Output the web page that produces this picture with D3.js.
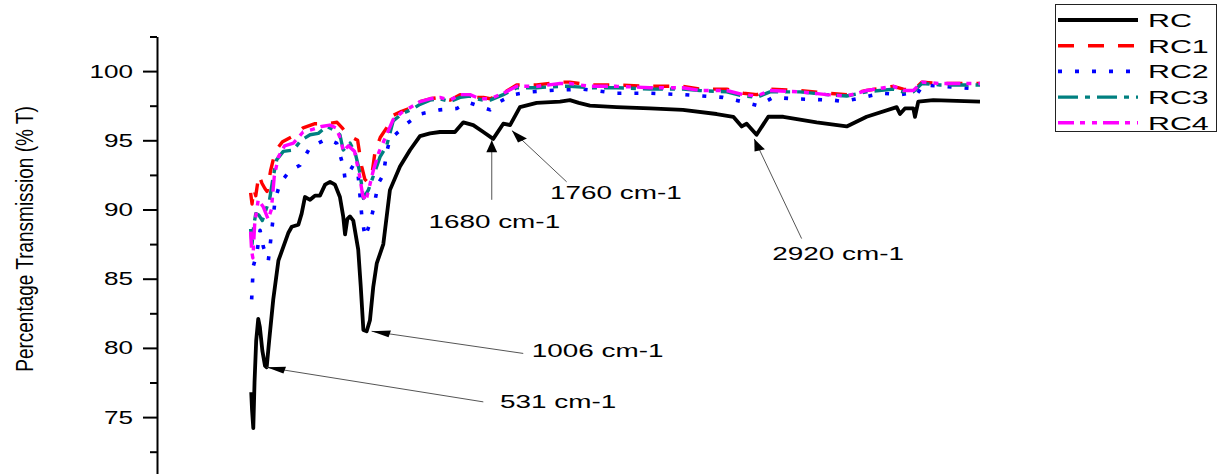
<!DOCTYPE html>
<html>
<head>
<meta charset="utf-8">
<script src="https://cdn.jsdelivr.net/npm/d3@7"></script>
<style>
  body { margin: 0; background: #fff; }
  svg { display: block; font-family: "Liberation Sans", Arial, sans-serif; }
</style>
</head>
<body>
<svg id="chart" width="1220" height="474"></svg>
<script>
// series: [wavenumber cm-1, % transmission]
var rc = [[458,76.8],[462,75.5],[468,74.2],[474,77.5],[482,80.5],[492,82.1],[500,81.5],[512,79.8],[525,78.7],[533,78.6],
  [545,80.5],[565,83.5],[590,86.3],[614,87.3],[638,88.3],[655,88.75],[687,88.9],[703,89.7],[719,90.9],[744,90.7],
  [760,90.9],[768,91.0],[792,91.0],[817,91.8],[841,92.0],[865,91.8],[889,90.9],[905,89.5],[914,88.2],[925,89.3],
  [938,89.5],[954,89.2],[978,87.1],[990,84.5],[1003,81.3],[1019,81.2],[1035,82.0],[1051,84.4],[1068,86.1],[1100,87.5],
  [1132,91.4],[1181,93.1],[1230,94.3],[1278,95.3],[1327,95.5],[1375,95.6],[1448,95.6],[1489,96.3],[1537,96.1],[1586,95.6],
  [1634,95.1],[1683,96.2],[1716,96.1],[1764,97.4],[1845,97.7],[1959,97.8],[2007,97.9],[2050,97.7],[2104,97.5],[2234,97.4],
  [2396,97.3],[2556,97.2],[2720,96.9],[2801,96.7],[2842,96.0],[2866,96.2],[2914,95.4],[2971,96.7],[3044,96.7],[3206,96.3],
  [3352,96.0],[3449,96.7],[3595,97.4],[3611,96.9],[3635,97.3],[3676,97.3],[3684,96.7],[3700,97.8],[3773,97.9],[4000,97.8]];

var rc1 = [[455,91.2],[462,90.4],[470,91.5],[480,91.0],[495,92.5],[510,91.9],[525,91.5],[535,91.3],[552,92.8],[575,94.2],
  [610,94.9],[660,95.3],[710,95.9],[768,96.2],[825,96.2],[875,96.3],[900,95.9],[925,95.4],[950,95.2],[975,95.0],
  [995,93.1],[1010,92.2],[1022,92.0],[1045,92.6],[1060,94.2],[1085,95.2],[1116,95.9],[1148,96.8],[1189,97.1],[1246,97.4],
  [1278,97.8],[1327,98.0],[1375,98.1],[1424,97.9],[1473,98.3],[1521,98.3],[1554,98.1],[1586,98.1],[1619,98.0],[1683,98.4],
  [1748,99.0],[1845,99.0],[1959,99.2],[2007,99.2],[2104,99.0],[2234,99.0],[2396,98.9],[2556,98.9],[2639,98.7],[2769,98.7],
  [2850,98.4],[2915,98.3],[2979,98.7],[3125,98.6],[3255,98.4],[3352,98.3],[3449,98.6],[3579,98.9],[3627,98.7],[3676,98.6],
  [3717,99.2],[3806,99.1],[4000,99.1]];

var rc2 = [[460,83.5],[468,85.9],[485,86.8],[501,88.5],[517,87.3],[541,86.3],[549,87.3],[574,90.7],[598,91.9],[646,92.8],
  [695,93.2],[744,94.5],[825,95.1],[873,94.8],[906,93.1],[914,92.2],[954,93.2],[978,92.4],[995,89.6],[1011,88.0],
  [1035,89.0],[1051,90.0],[1076,91.9],[1100,92.5],[1116,94.1],[1132,95.1],[1197,95.9],[1214,96.2],[1278,96.9],[1375,97.2],
  [1457,97.3],[1506,97.7],[1521,97.7],[1619,97.2],[1667,97.8],[1732,98.3],[1813,98.5],[1910,98.6],[2070,98.7],[2234,98.4],
  [2396,98.4],[2556,98.3],[2751,98.1],[2842,97.8],[2923,97.5],[2995,98.1],[3093,98.0],[3287,97.9],[3336,97.8],[3433,98.1],
  [3522,98.4],[3611,98.3],[3660,98.4],[3692,98.3],[3724,99.0],[3822,98.9],[4000,98.7]];

var rc3 = [[455,88.6],[462,87.5],[470,88.8],[480,89.7],[495,89.6],[512,89.2],[530,90.0],[547,90.7],[565,92.4],[582,93.6],
  [614,94.2],[663,94.3],[700,95.0],[744,95.4],[784,95.5],[825,96.0],[865,95.7],[889,95.4],[905,94.3],[938,94.8],
  [963,94.1],[987,92.6],[1003,90.8],[1027,91.4],[1051,92.4],[1084,93.8],[1116,94.6],[1148,96.4],[1189,96.9],[1246,97.3],
  [1278,97.6],[1327,97.9],[1375,98.0],[1424,97.8],[1473,98.1],[1521,98.2],[1554,98.0],[1586,97.9],[1619,97.9],[1683,98.3],
  [1748,98.8],[1845,98.8],[1959,98.9],[2007,98.9],[2104,98.8],[2234,98.8],[2396,98.7],[2556,98.7],[2639,98.6],[2769,98.5],
  [2850,98.2],[2915,98.1],[2979,98.5],[3125,98.5],[3255,98.3],[3352,98.2],[3449,98.5],[3579,98.7],[3627,98.5],[3676,98.5],
  [3717,99.1],[3806,99.0],[4000,99.0]];

var rc4 = [[455,88.4],[460,87.0],[466,86.5],[475,89.0],[492,90.7],[516,90.2],[540,89.3],[556,90.0],[570,92.4],[590,93.8],
  [620,94.6],[663,94.8],[710,95.6],[760,95.8],[800,96.0],[840,96.1],[870,95.9],[895,95.0],[905,94.2],[930,94.6],
  [960,94.2],[985,92.4],[1000,91.0],[1015,90.6],[1030,91.5],[1051,92.8],[1080,94.2],[1116,95.4],[1148,96.5],[1189,97.0],
  [1246,97.5],[1278,97.8],[1327,98.0],[1375,98.1],[1424,97.9],[1473,98.3],[1521,98.3],[1554,98.1],[1586,98.0],[1619,98.0],
  [1683,98.4],[1748,98.9],[1845,98.9],[1959,99.1],[2007,99.1],[2104,98.9],[2234,98.9],[2396,98.8],[2556,98.8],[2639,98.6],
  [2769,98.6],[2850,98.3],[2915,98.2],[2979,98.6],[3125,98.5],[3255,98.3],[3352,98.2],[3449,98.6],[3579,98.9],[3627,98.6],
  [3676,98.6],[3717,99.2],[3806,99.1],[4000,99.1]];

var seriesNames = ["RC", "RC1", "RC2", "RC3", "RC4"];
var seriesData = [rc, rc1, rc2, rc3, rc4];

var majorTicks = [75, 80, 85, 90, 95, 100];
var minorTicks = [72.5, 77.5, 82.5, 87.5, 92.5, 97.5, 102.5];

// peak labels: tip = point on curve, tail = end of the leader, text = label start
var peakLabels = ["531 cm-1", "1006 cm-1", "1680 cm-1", "1760 cm-1", "2920 cm-1"];
var peakTips = [[533,78.6], [1043,81.2], [1627,95.0], [1725,95.7], [2903,95.1]];
var peakTails = [[1586,76.1], [1780,79.6], [1627,90.7], [1991,92.0], [3133,87.9]];
var peakText = [[1667,76.1], [1821,79.8], [1319,89.1], [1910,91.2], [2990,86.8]];

// styling
var colors = ["#000000", "#ff0000", "#0000ff", "#008080", "#ff00ff"];
var dashes = [null, "16,14", "4,13", "20,7,5,7", "16,6,5,7,5,6"];
var widths = [3.8, 3.4, 3.6, 3.4, 3.4];
var sx = 1.55; // the original picture is stretched sideways

var svg = d3.select("#chart");

var x = d3.scaleLinear().domain([0, 4000]).range([157, 980]);
var y = d3.scaleLinear().domain([70, 102.5]).range([486.3, 36.5]);

// y axis
var axisG = svg.append("g").attr("transform", "translate(157,0)");
axisG.call(d3.axisLeft(y).tickValues(majorTicks).tickSize(14).tickSizeOuter(0).tickFormat(""));
axisG.call(function (g) {
    g.selectAll("path, line").attr("stroke", "#000").attr("stroke-width", 2);
});
var minorG = svg.append("g").attr("transform", "translate(157,0)");
minorG.call(d3.axisLeft(y).tickValues(minorTicks).tickSize(7).tickSizeOuter(0).tickFormat(""));
minorG.call(function (g) {
    g.select(".domain").remove();
    g.selectAll("line").attr("stroke", "#000").attr("stroke-width", 2);
});

svg.selectAll(".ylab").data(majorTicks).enter().append("text")
    .attr("class", "ylab")
    .attr("transform", function (d) { return "translate(133," + y(d) + ") scale(1.45,1)"; })
    .attr("text-anchor", "end")
    .attr("dy", "0.36em")
    .style("font-size", "18px")
    .text(function (d) { return d; });

svg.append("text")
    .attr("transform", "translate(33,239) scale(1.3,1) rotate(-90)")
    .attr("text-anchor", "middle")
    .style("font-size", "19px")
    .text("Percentage Transmission (% T)");

// spectra
var line = d3.line()
    .x(function (d) { return x(d[0]); })
    .y(function (d) { return y(d[1]); });

seriesData.forEach(function (data, i) {
    svg.append("path")
        .datum(data)
        .attr("fill", "none")
        .attr("stroke", colors[i])
        .attr("stroke-width", widths[i])
        .attr("stroke-linejoin", "round")
        .attr("stroke-dasharray", dashes[i])
        .attr("d", line);
});

// peak annotations
peakLabels.forEach(function (label, i) {
    var tx = x(peakTips[i][0]), ty = y(peakTips[i][1]);
    var ex = x(peakTails[i][0]), ey = y(peakTails[i][1]);
    svg.append("line")
        .attr("x1", tx).attr("y1", ty).attr("x2", ex).attr("y2", ey)
        .attr("stroke", "#555").attr("stroke-width", 1);
    // arrow head built unstretched then stretched sideways
    var dx = (ex - tx) / sx, dy = ey - ty;
    var len = Math.sqrt(dx * dx + dy * dy);
    var ux = dx / len, uy = dy / len;
    var L = 12, W = 3.5;
    var pts = [[0, 0], [ux * L - uy * W, uy * L + ux * W], [ux * L + uy * W, uy * L - ux * W]];
    svg.append("path")
        .attr("d", "M" + pts.map(function (p) { return (tx + p[0] * sx) + "," + (ty + p[1]); }).join("L") + "Z")
        .attr("fill", "#000");
    svg.append("text")
        .attr("transform", "translate(" + x(peakText[i][0]) + "," + y(peakText[i][1]) + ") scale(" + sx + ",1)")
        .attr("dy", "0.36em")
        .style("font-size", "18px")
        .text(label);
});

// legend
var legend = svg.append("g");
legend.append("rect")
    .attr("x", 1055.5).attr("y", 4.5).attr("width", 161).attr("height", 127)
    .attr("fill", "#fff").attr("stroke", "#222").attr("stroke-width", 1);
seriesNames.forEach(function (name, i) {
    var ly = 20 + i * 25.7;
    legend.append("line")
        .attr("x1", 1058).attr("x2", 1138).attr("y1", ly).attr("y2", ly)
        .attr("stroke", colors[i]).attr("stroke-width", widths[i])
        .attr("stroke-dasharray", dashes[i]);
    legend.append("text")
        .attr("transform", "translate(1148," + ly + ") scale(1.6,1)")
        .attr("dy", "0.36em")
        .style("font-size", "19px")
        .text(name);
});
</script>
</body>
</html>
